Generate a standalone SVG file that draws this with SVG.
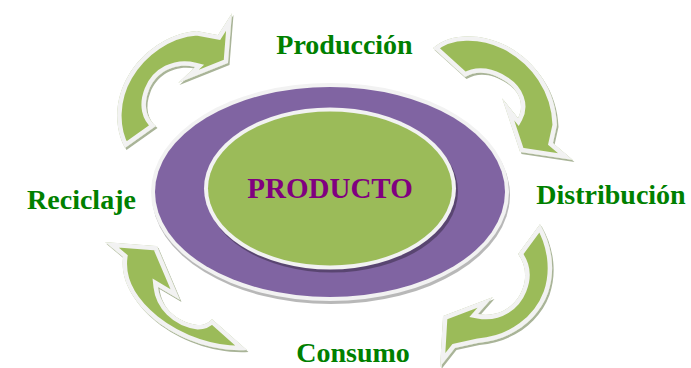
<svg xmlns="http://www.w3.org/2000/svg" xmlns:xlink="http://www.w3.org/1999/xlink" width="691" height="368" viewBox="0 0 691 368">
<style>
.lbl{font-family:"Liberation Serif","Times New Roman",serif;font-weight:bold;font-size:28px;fill:#008000;text-anchor:middle}
.main{font-family:"Liberation Serif","Times New Roman",serif;font-weight:bold;font-size:29px;fill:#800080;text-anchor:middle}
.sh{fill:#a9b498}
.rim{fill:#f2f2f2}
.body{fill:#9bbb59;stroke:#f2f2f2;stroke-width:9;stroke-linejoin:miter}
</style>
<defs>
<path id="a1" d="M125,148 C114,128 114,100 128,76 C142,52 168,33 197,31 L218,35 L232,13 L228,63 L178,83 L195,67 C175,62 156,72 149,90 C143,105 146,118 156,126 Z"/>
<path id="a2" d="M433,48 C450,33 480,33 505,45 C535,60 556,90 557,125 L553,143 L573,160 L520,152 L502,98 L518,118 C525,105 519,90 505,81 C493,73 478,69 465,77 Z"/>
<path id="a3" d="M540,224 C552,245 556,270 548,293 C538,320 512,340 478,343 L455,348 L440,367 L443,316 L493,297 L478,314 C500,318 516,305 522,290 C527,278 526,265 518,254 Z"/>
<path id="a4" d="M247,350 C215,352 180,340 155,320 C133,302 120,280 123,257 L105,242 L157,246 L180,300 L158,287 C160,305 175,322 198,325 C204,325 208,323 212,319 Z"/>
<clipPath id="c1"><use xlink:href="#a1"/></clipPath>
<clipPath id="c2"><use xlink:href="#a2"/></clipPath>
<clipPath id="c3"><use xlink:href="#a3"/></clipPath>
<clipPath id="c4"><use xlink:href="#a4"/></clipPath>
</defs>
<g id="connectors">
<g id="arrow-reciclaje-produccion">
<use xlink:href="#a1" class="sh" transform="translate(1.5,2)"/>
<use xlink:href="#a1" class="rim"/>
<use xlink:href="#a1" class="body" clip-path="url(#c1)"/>
</g>
<g id="arrow-produccion-distribucion">
<use xlink:href="#a2" class="sh" transform="translate(1.5,2)"/>
<use xlink:href="#a2" class="rim"/>
<use xlink:href="#a2" class="body" clip-path="url(#c2)"/>
</g>
<g id="arrow-distribucion-consumo">
<use xlink:href="#a3" class="sh" transform="translate(1.5,2)"/>
<use xlink:href="#a3" class="rim"/>
<use xlink:href="#a3" class="body" clip-path="url(#c3)"/>
</g>
<g id="arrow-consumo-reciclaje">
<use xlink:href="#a4" class="sh" transform="translate(1.5,2)"/>
<use xlink:href="#a4" class="rim"/>
<use xlink:href="#a4" class="body" clip-path="url(#c4)"/>
</g>
</g>
<g id="producto">
<ellipse cx="331" cy="195" rx="179" ry="109" fill="#000" opacity="0.28"/>
<ellipse cx="330" cy="192" rx="179" ry="109" fill="#f2f2f2"/>
<ellipse cx="330" cy="192" rx="175" ry="105" fill="#8064a2"/>
<ellipse cx="332" cy="191.5" rx="126" ry="81" fill="#000" opacity="0.3"/>
<ellipse cx="330" cy="188.5" rx="126" ry="81" fill="#f2f2f2"/>
<ellipse cx="330" cy="188.5" rx="122" ry="77" fill="#9bbb59"/>
<text class="main" x="330" y="198">PRODUCTO</text>
</g>
<g id="produccion"><text class="lbl" x="344.5" y="54">Producción</text></g>
<g id="distribucion"><text class="lbl" x="611" y="204">Distribución</text></g>
<g id="consumo"><text class="lbl" x="353" y="362">Consumo</text></g>
<g id="reciclaje"><text class="lbl" x="81.5" y="209">Reciclaje</text></g>
</svg>
